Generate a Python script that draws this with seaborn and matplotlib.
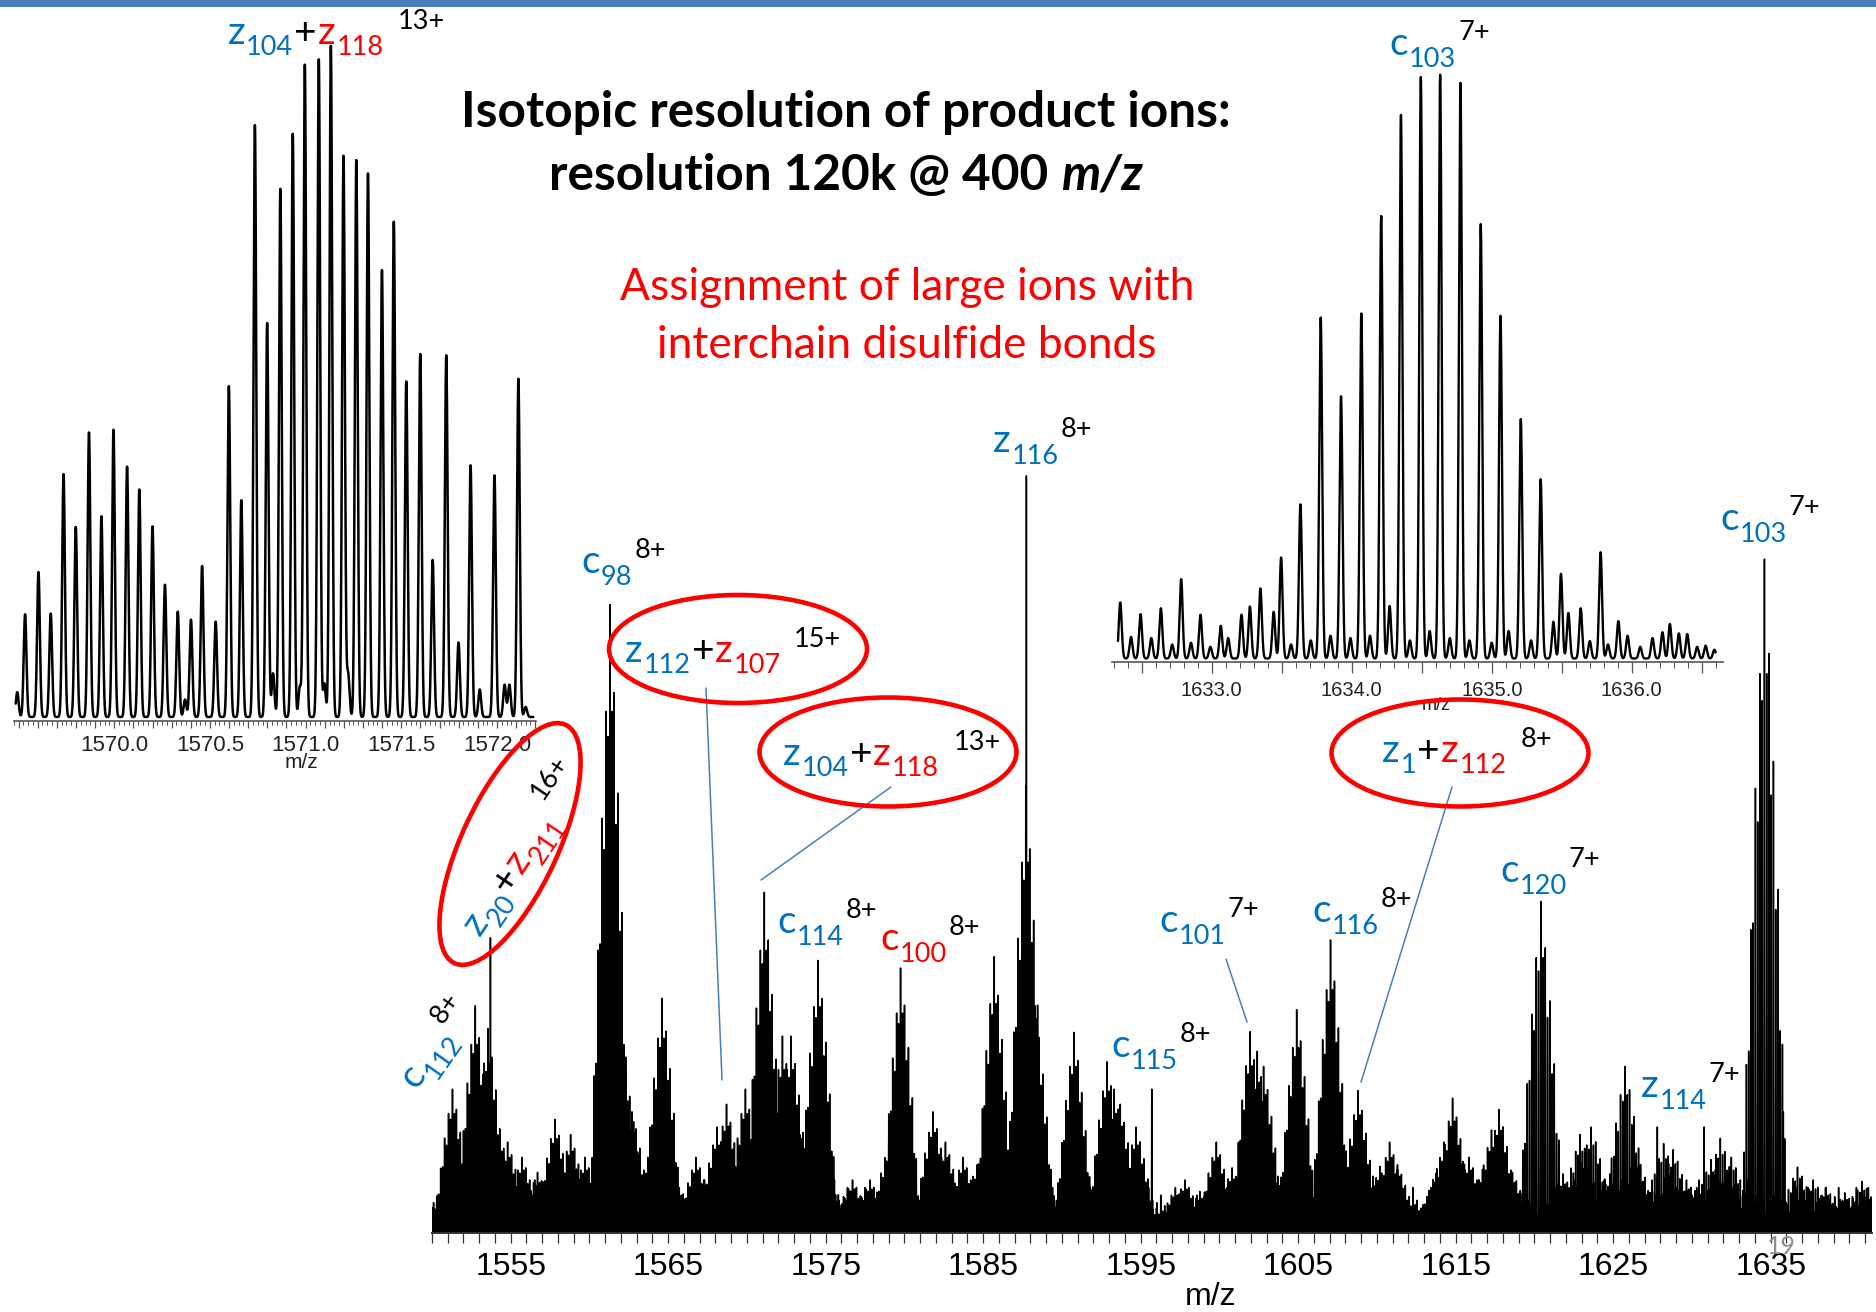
import numpy as np
import matplotlib
matplotlib.use("Agg")
import matplotlib.pyplot as plt
import seaborn as sns
from matplotlib.patches import Ellipse, Rectangle
from matplotlib.lines import Line2D
from matplotlib.transforms import IdentityTransform
from matplotlib.font_manager import FontProperties
from matplotlib.ticker import FixedLocator, MultipleLocator, FuncFormatter

# ---------------- main spectrum: isotope clusters (apex m/z, apex intensity) ----------------
CLUSTER_MZ = [1550.3, 1551.3, 1552.75, 1553.55, 1554.3, 1554.8, 1555.7, 1556.7, 1557.8, 1558.8,
              1559.7, 1561.3, 1562.3, 1562.7, 1563.7, 1564.6, 1565.7, 1566.75, 1568.1, 1568.7,
              1569.9, 1571.1, 1572.25, 1572.8, 1573.35, 1573.8, 1574.5, 1575.6, 1576.7, 1577.8,
              1579.0, 1579.75, 1581.8, 1582.6, 1583.7, 1584.6, 1585.7, 1587.7, 1588.3, 1589.0,
              1590.75, 1591.8, 1592.85, 1593.3, 1593.7, 1594.7, 1597.2, 1597.8, 1598.75, 1599.4,
              1599.8, 1600.8, 1601.3, 1601.95, 1602.4, 1602.8, 1603.7, 1604.9, 1607.05, 1608.8,
              1609.75, 1610.2, 1610.8, 1611.3, 1612.3, 1613.25, 1613.8, 1614.25, 1614.8, 1615.2,
              1615.85, 1616.7, 1617.27, 1617.75, 1618.1, 1618.6, 1619.3, 1620.4, 1621.8, 1622.35,
              1622.9, 1623.6, 1624.4, 1624.8, 1625.75, 1626.45, 1627.1, 1628.2, 1628.8, 1629.65,
              1630.3, 1631.2, 1631.8, 1632.5, 1634.6, 1636.7, 1637.7, 1638.5, 1639.7, 1640.8]
CLUSTER_H = [4, 19, 30, 27, 13, 12, 10, 8, 15, 13,
             10, 83, 21, 16, 10, 31, 6, 10, 14, 17,
             19, 45, 26, 26, 13, 14, 36, 5, 7, 7,
             12, 35, 16, 12, 10, 9, 36.5, 59, 30, 7,
             26.5, 6, 22.6, 19, 17, 14, 6, 7, 5.5, 6,
             12, 8.6, 9, 26.6, 24, 22, 7.5, 29.5, 38.7, 18.8,
             7.5, 8.8, 12, 9, 4.5, 4.5, 8.5, 12, 17.8, 11,
             10, 8.4, 13.6, 16.3, 8.8, 8, 5, 43.8, 7.8, 6.2,
             13, 14, 5.6, 7.8, 22, 10.5, 5, 11.8, 11, 7,
             6, 9.7, 12.5, 10, 89, 8.7, 7, 6, 5.3, 6.8]
# charge state of each cluster: 8+ below m/z 1620, 7+ above
CLUSTER_Z = [8 if m < 1620 else 7 for m in CLUSTER_MZ]

# single isotope lines standing above their clusters
SPIKE_MZ = [1553.71, 1587.74, 1595.7, 1627.8, 1630.77, 1635.8]
SPIKE_H = [39, 100, 19, 14, 14, 16]

# low-level chemical noise
FLOOR_MZ = [1550.35, 1551.42, 1552.28, 1553.47, 1554.61, 1555.33, 1556.52, 1557.40, 1558.57, 1559.36,
            1560.48, 1561.62, 1562.31, 1563.45, 1564.58, 1565.39, 1566.51, 1567.30, 1568.44, 1569.60,
            1570.37, 1571.49, 1572.62, 1573.33, 1574.46, 1575.55, 1576.38, 1577.50, 1578.29, 1579.43,
            1580.58, 1581.36, 1582.49, 1583.61, 1584.32, 1585.45, 1586.57, 1587.34, 1588.52, 1589.40,
            1590.59, 1591.31, 1592.46, 1593.60, 1594.38, 1595.50, 1596.27, 1597.44, 1598.56, 1599.35,
            1600.47, 1601.61, 1602.30, 1603.43, 1604.55, 1605.37, 1606.49, 1607.32, 1608.45, 1609.58,
            1610.36, 1611.51, 1612.29, 1613.42, 1614.57, 1615.34, 1616.48, 1617.60, 1618.31, 1619.46,
            1620.55, 1621.38, 1622.50, 1623.28, 1624.44, 1625.59, 1626.35, 1627.47, 1628.62, 1629.33,
            1630.45, 1631.56, 1632.37, 1633.49, 1634.30, 1635.43, 1636.58, 1637.36, 1638.48, 1639.31,
            1640.44, 1641.20]
FLOOR_H = [5, 6, 7, 7, 7, 6, 7, 8, 7, 7,
           6, 7, 8, 7, 7, 6, 7, 7, 8, 8,
           9, 8, 8, 7, 6, 7, 6, 6, 5, 6,
           6, 7, 7, 7, 7, 6, 7, 8, 7, 6,
           6, 6, 7, 7, 6, 6, 5, 5, 5, 6,
           6, 7, 8, 7, 6, 6, 5, 6, 6, 6,
           7, 7, 6, 6, 7, 7, 7, 7, 7, 5,
           5, 6, 7, 7, 7, 7, 7, 7, 7, 7,
           7, 7, 7, 7, 6, 6, 6, 6, 6, 6,
           6, 6]

# relative isotope envelope of a product-ion cluster (most abundant isotope = 1.0)
ISO_ENV = [0.12, 0.25, 0.27, 0.45, 0.46, 0.66, 0.61, 0.83, 0.79, 1.00,
           0.83, 0.86, 0.65, 0.70, 0.48, 0.51, 0.30, 0.28, 0.14]
# relative line heights inside one noise bundle
NOISE_ENV = [0.35, 0.62, 0.45, 0.80, 0.50, 1.00, 0.58, 0.72, 0.40, 0.55, 0.30]

MAIN_TICKS = [1555, 1565, 1575, 1585, 1595, 1605, 1615, 1625, 1635]

# ---------------- zoomed spectrum around 1571 (z104+z118, 13+) ----------------
LEFT_MZ = [1569.493, 1569.534, 1569.604, 1569.668, 1569.735, 1569.799, 1569.868, 1569.933, 1569.996,
           1570.067, 1570.131, 1570.200, 1570.265, 1570.332, 1570.370, 1570.401, 1570.459, 1570.530,
           1570.599, 1570.664, 1570.735, 1570.799, 1570.830, 1570.868, 1570.933, 1570.970, 1570.996,
           1571.069, 1571.098, 1571.132, 1571.198, 1571.222, 1571.265, 1571.326, 1571.399, 1571.461,
           1571.526, 1571.599, 1571.664, 1571.735, 1571.799, 1571.862, 1571.910, 1571.987, 1572.040,
           1572.065, 1572.112, 1572.150]
LEFT_H = [3.7, 15.3, 21.6, 15.4, 36.2, 28.3, 42.4, 29.9, 42.8,
          37.3, 33.9, 28.4, 19.7, 15.7, 2.6, 14.5, 22.5, 14.2,
          49.3, 32.3, 88.2, 58.7, 6.5, 78.7, 86.9, 4.5, 97.2,
          98.0, 5.0, 100.0, 83.6, 6.5, 83.0, 81.0, 66.6, 73.8,
          50.0, 54.1, 23.4, 53.9, 11.1, 37.5, 4.1, 36.0, 4.8,
          4.8, 50.4, 1.5]
LEFT_BASE = 0.6

# ---------------- zoomed spectrum around 1634.6 (c103, 7+) ----------------
RIGHT_MZ = [1632.346, 1632.423, 1632.491, 1632.568, 1632.636, 1632.717, 1632.781, 1632.851, 1632.919,
            1632.990, 1633.064, 1633.117, 1633.212, 1633.272, 1633.347, 1633.442, 1633.495, 1633.566,
            1633.633, 1633.707, 1633.778, 1633.848, 1633.923, 1633.990, 1634.068, 1634.130, 1634.210,
            1634.270, 1634.351, 1634.415, 1634.493, 1634.556, 1634.631, 1634.700, 1634.776, 1634.840,
            1634.921, 1634.999, 1635.062, 1635.120, 1635.207, 1635.280, 1635.349, 1635.440, 1635.494,
            1635.547, 1635.635, 1635.700, 1635.777, 1635.830, 1635.904, 1635.970, 1636.060, 1636.148,
            1636.219, 1636.272, 1636.336, 1636.396, 1636.467, 1636.527, 1636.590]
RIGHT_H = [9.6, 3.7, 7.6, 3.5, 8.6, 2.4, 13.6, 2.7, 7.5,
           2.0, 5.6, 3.5, 7.5, 8.9, 12.0, 8.0, 17.3, 2.4,
           26.4, 3.1, 58.4, 3.9, 44.9, 3.5, 59.1, 3.9, 75.8,
           9.0, 93.1, 3.1, 99.6, 4.7, 100.0, 3.5, 98.6, 3.1,
           74.4, 2.7, 58.7, 4.7, 41.0, 3.1, 30.7, 6.3, 14.5,
           7.8, 8.6, 3.0, 18.2, 2.4, 6.4, 3.9, 2.0, 3.5,
           4.5, 5.9, 4.3, 4.2, 2.0, 2.2, 1.5]
RIGHT_BASE = 0.6

BLUE = '#0070C0'
RED = '#FF0000'
LINK = '#4a7ebb'

# ---------------- figure ----------------
sns.set_theme(style="white")
plt.rcParams['font.family'] = ['Liberation Sans', 'DejaVu Sans']
LABEL_FONT = ['Lato', 'DejaVu Sans']

W, H = 1876, 1312
fig = plt.figure(figsize=(W / 100, H / 100), dpi=100)
fig.patch.set_facecolor('white')
renderer = fig.canvas.get_renderer()


def rect(x0, x1, y_base, y_top):
    """axes rectangle from pixel edges (y measured from the top)"""
    return [x0 / W, (H - y_base) / H, (x1 - x0) / W, (y_base - y_top) / H]


def profile(x, centres, heights, sigma, base=0.0):
    y = np.full_like(x, base)
    for c, h in zip(centres, heights):
        i0 = np.searchsorted(x, c - 6 * sigma)
        i1 = np.searchsorted(x, c + 6 * sigma)
        y[i0:i1] += h * np.exp(-0.5 * ((x[i0:i1] - c) / sigma) ** 2)
    return y


def bundle_lines(centre, height, charge, shape):
    """positions and heights of the isotope lines of one cluster"""
    shape = np.array(shape)
    top = int(np.argmax(shape))
    pos = centre + (np.arange(len(shape)) - top) / charge
    return pos, height * shape


# collect every line of the main spectrum
pos_list, h_list = [], []
for c, h in zip(FLOOR_MZ, FLOOR_H):
    p, a = bundle_lines(c, h, 8, NOISE_ENV)
    pos_list.append(p); h_list.append(a)
for c, h, z in zip(CLUSTER_MZ, CLUSTER_H, CLUSTER_Z):
    p, a = bundle_lines(c, h, z, ISO_ENV)
    pos_list.append(p); h_list.append(a)
pos_list.append(np.array(SPIKE_MZ)); h_list.append(np.array(SPIKE_H, dtype=float))
line_pos = np.concatenate(pos_list)
line_h = np.concatenate(h_list)
keep = (line_pos > 1550.0) & (line_pos < 1641.4)
order = np.argsort(line_pos[keep])
line_pos = line_pos[keep][order]
line_h = line_h[keep][order]

# profile trace: every line rises from and returns to the baseline
HALF = 0.02
trace_x = np.column_stack([line_pos - HALF, line_pos, line_pos + HALF]).ravel()
trace_y = np.column_stack([np.zeros_like(line_h), line_h, np.zeros_like(line_h)]).ravel()

ax = fig.add_axes(rect(432, 1872, 1233, 438))
sns.lineplot(x=trace_x, y=trace_y, ax=ax, color='black', linewidth=1.1,
             estimator=None, sort=False, legend=False)
ax.set_xlim(1550.0, 1641.43)
ax.set_ylim(0, 105)
ax.patch.set_alpha(0)
for s in ['top', 'left', 'right']:
    ax.spines[s].set_visible(False)
ax.spines['bottom'].set_color('#333333')
ax.spines['bottom'].set_linewidth(1.4)
ax.set_yticks([])
ax.xaxis.set_major_locator(FixedLocator(MAIN_TICKS))
ax.xaxis.set_minor_locator(MultipleLocator(1))
ax.xaxis.set_major_formatter(FuncFormatter(lambda v, p: f'{v:.0f}'))
ax.tick_params(axis='x', which='both', direction='out', length=7, width=0.9,
               color='#333333', bottom=True)
ax.tick_params(axis='x', which='major', labelsize=23, pad=7, labelcolor='black')
ax.set_xlabel('m/z', fontsize=23, color='black')
ax.xaxis.set_label_coords((1211 - 432) / 1440, -(1297 - 1233) / 795)
ax.xaxis.label.set_verticalalignment('center')
ax.set_ylabel('')

# left zoom panel
xl = np.arange(1569.485, 1572.19, 0.001)
yl = profile(xl, LEFT_MZ, LEFT_H, 0.0072, LEFT_BASE)
axl = fig.add_axes(rect(13.6, 536, 721, 16.4))
sns.lineplot(x=xl, y=yl, ax=axl, color='black', linewidth=1.8,
             estimator=None, sort=False, legend=False)
axl.set_xlim(1569.474, 1572.204)
axl.set_ylim(0, 105)

# right zoom panel
xr = np.arange(1632.33, 1636.60, 0.001)
yr = profile(xr, RIGHT_MZ, RIGHT_H, 0.0105, RIGHT_BASE)
axr = fig.add_axes(rect(1112.4, 1722.8, 662, 49))
sns.lineplot(x=xr, y=yr, ax=axr, color='black', linewidth=1.7,
             estimator=None, sort=False, legend=False)
axr.set_xlim(1632.29, 1636.65)
axr.set_ylim(0, 105)

for a in (axl, axr):
    a.patch.set_alpha(0)
    for s in ['top', 'left', 'right']:
        a.spines[s].set_visible(False)
    a.spines['bottom'].set_color('#555555')
    a.spines['bottom'].set_linewidth(1.2)
    a.set_yticks([])
    a.set_xlabel('')
    a.set_ylabel('')

axl.xaxis.set_major_locator(MultipleLocator(0.1))
axl.xaxis.set_minor_locator(MultipleLocator(0.025))
axl.xaxis.set_major_formatter(FuncFormatter(
    lambda v, p: f'{v:.1f}' if (abs(v * 2 - round(v * 2)) < 1e-6 and v > 1569.9) else ''))
axl.tick_params(axis='x', which='major', length=5, width=0.9, color='#555555',
                labelsize=16, pad=5, labelcolor='#222222', bottom=True)
axl.tick_params(axis='x', which='minor', length=3, width=0.7, color='#555555', bottom=True)

axr.xaxis.set_major_locator(MultipleLocator(0.5))
axr.xaxis.set_minor_locator(MultipleLocator(0.1))
axr.xaxis.set_major_formatter(FuncFormatter(
    lambda v, p: f'{v:.1f}' if abs(v - round(v)) < 1e-6 else ''))
axr.tick_params(axis='x', which='major', length=8, width=0.9, color='#555555',
                labelsize=14.5, pad=6, labelcolor='#222222', bottom=True)
axr.tick_params(axis='x', which='minor', length=4, width=0.7, color='#555555', bottom=True)

fig.text(301 / W, 1 - 762 / H, 'm/z', fontsize=15, color='#222222', ha='center', va='center')
fig.text(1436 / W, 1 - 705 / H, 'm/z', fontsize=13, color='#222222', ha='center', va='center')

# ---------------- text helpers ----------------
MAIN_SZ, SUB_SZ, SUP_SZ = 28, 19.5, 19.5
SUB_DY, SUP_DY = -12, 15


def text_width(s, fp):
    return renderer.get_text_width_height_descent(s, fp, ismath=False)[0]


def rich_label(x, y, pieces, angle=0.0, family=LABEL_FONT):
    """draw a run of text pieces starting at the baseline point (x, y) in pixels from the top"""
    th = np.deg2rad(angle)
    ux, uy = np.cos(th), np.sin(th)
    nx, ny = -np.sin(th), np.cos(th)
    X0, Y0 = x, H - y
    adv = 0.0
    for text, color, size, dy, gap, extra in pieces:
        adv += gap
        fp = FontProperties(family=family, size=size, **extra)
        fig.text(X0 + adv * ux + dy * nx, Y0 + adv * uy + dy * ny, text, color=color,
                 fontproperties=fp, transform=IdentityTransform(), ha='left',
                 va='baseline', rotation=angle, rotation_mode='anchor')
        adv += text_width(text, fp)


def ion(letter, num, charge, color, sup_gap=2, sup_dy=SUP_DY):
    return [(letter, color, MAIN_SZ, 0, 0, {}), (num, color, SUB_SZ, SUB_DY, 1, {}),
            (charge, 'black', SUP_SZ, sup_dy, sup_gap, {})]


def pair(l1, n1, l2, n2, charge, sup_gap=14, sup_dy=SUP_DY):
    return [(l1, BLUE, MAIN_SZ, 0, 0, {}), (n1, BLUE, SUB_SZ, SUB_DY + 1, 1, {}),
            ('+', 'black', MAIN_SZ, 0, 1, {}), (l2, RED, MAIN_SZ, 0, 1, {}),
            (n2, RED, SUB_SZ, SUB_DY + 1, 1, {}), (charge, 'black', SUP_SZ, sup_dy, sup_gap, {})]


def centred_line(cx, y, parts, size):
    """parts: (text, color, weight, style); drawn centred on cx at baseline y"""
    fps = [FontProperties(family=LABEL_FONT, size=size, weight=w, style=st) for _, _, w, st in parts]
    total = sum(text_width(t, fp) for (t, _, _, _), fp in zip(parts, fps))
    x = cx - total / 2
    for (t, c, w, st), fp in zip(parts, fps):
        fig.text(x, H - y, t, color=c, fontproperties=fp, transform=IdentityTransform(),
                 ha='left', va='baseline')
        x += text_width(t, fp)


def size_for_width(s, target, weight):
    w10 = text_width(s, FontProperties(family=LABEL_FONT, size=10, weight=weight))
    return 10 * target / w10


# ---------------- titles ----------------
t1 = 'Isotopic resolution of product ions:'
ts = size_for_width(t1, 773, 'bold')
centred_line(846, 127, [(t1, 'black', 'bold', 'normal')], ts)
centred_line(846, 190, [('resolution 120k @ 400 ', 'black', 'bold', 'normal'),
                        ('m/z', 'black', 'bold', 'italic')], ts)
r1 = 'Assignment of large ions with'
rs = size_for_width(r1, 573, 'normal')
centred_line(907, 300, [(r1, RED, 'normal', 'normal')], rs)
centred_line(907, 358, [('interchain disulfide bonds', RED, 'normal', 'normal')], rs)

# ---------------- peak annotations ----------------
rich_label(227.5, 44, pair('z', '104', 'z', '118', '13+'))
rich_label(1389.6, 55, ion('c', '103', '7+', BLUE))
rich_label(581, 573, ion('c', '98', '8+', BLUE))
rich_label(625, 662, pair('z', '112', 'z', '107', '15+', sup_gap=13))
rich_label(783, 765, pair('z', '104', 'z', '118', '13+', sup_gap=15))
rich_label(993, 452, ion('z', '116', '8+', BLUE))
rich_label(777, 933, ion('c', '114', '8+', BLUE))
rich_label(880, 950, ion('c', '100', '8+', RED))
rich_label(1111, 1057, ion('c', '115', '8+', BLUE))
rich_label(1159, 932, ion('c', '101', '7+', BLUE))
rich_label(1312, 922, ion('c', '116', '8+', BLUE))
rich_label(1382, 762, pair('z', '1', 'z', '112', '8+', sup_gap=14))
rich_label(1500, 882, ion('c', '120', '7+', BLUE))
rich_label(1641, 1097, ion('z', '114', '7+', BLUE))
rich_label(1720, 530, ion('c', '103', '7+', BLUE))
rich_label(416, 1090, ion('c', '112', '8+', BLUE), angle=55)
rich_label(480, 937, pair('z', '20', 'z', '211', '16+', sup_gap=8, sup_dy=24), angle=56)

# ---------------- highlight ellipses and leader lines ----------------
for cx, cy, w, h, ang in [(738, 649, 258, 108, 0), (888, 752, 257, 109, 0),
                          (1460, 753, 257, 107, 0), (510, 844, 263, 96, 65)]:
    fig.add_artist(Ellipse((cx, H - cy), w, h, angle=ang, transform=IdentityTransform(),
                           fill=False, edgecolor=RED, linewidth=3.3, zorder=5))

for (x1, y1), (x2, y2) in [((706, 688), (722, 1080)), ((891, 787), (761, 880)),
                           ((1452, 787), (1361, 1082)), ((1226, 959), (1247, 1022))]:
    fig.add_artist(Line2D([x1, x2], [H - y1, H - y2], transform=IdentityTransform(),
                          color=LINK, linewidth=1.1, zorder=4))

# slide decoration: top rule and page number
fig.add_artist(Rectangle((0, 1 - 7 / H), 1, 7 / H, transform=fig.transFigure,
                         facecolor='#4a7ebb', edgecolor='none', zorder=6))
fig.text(1781 / W, 1 - 1246 / H, '19', fontsize=18, color='#8c8c8c', ha='center', va='center',
         family=LABEL_FONT, zorder=6)

fig.savefig('out.png', dpi=100, facecolor='white')
